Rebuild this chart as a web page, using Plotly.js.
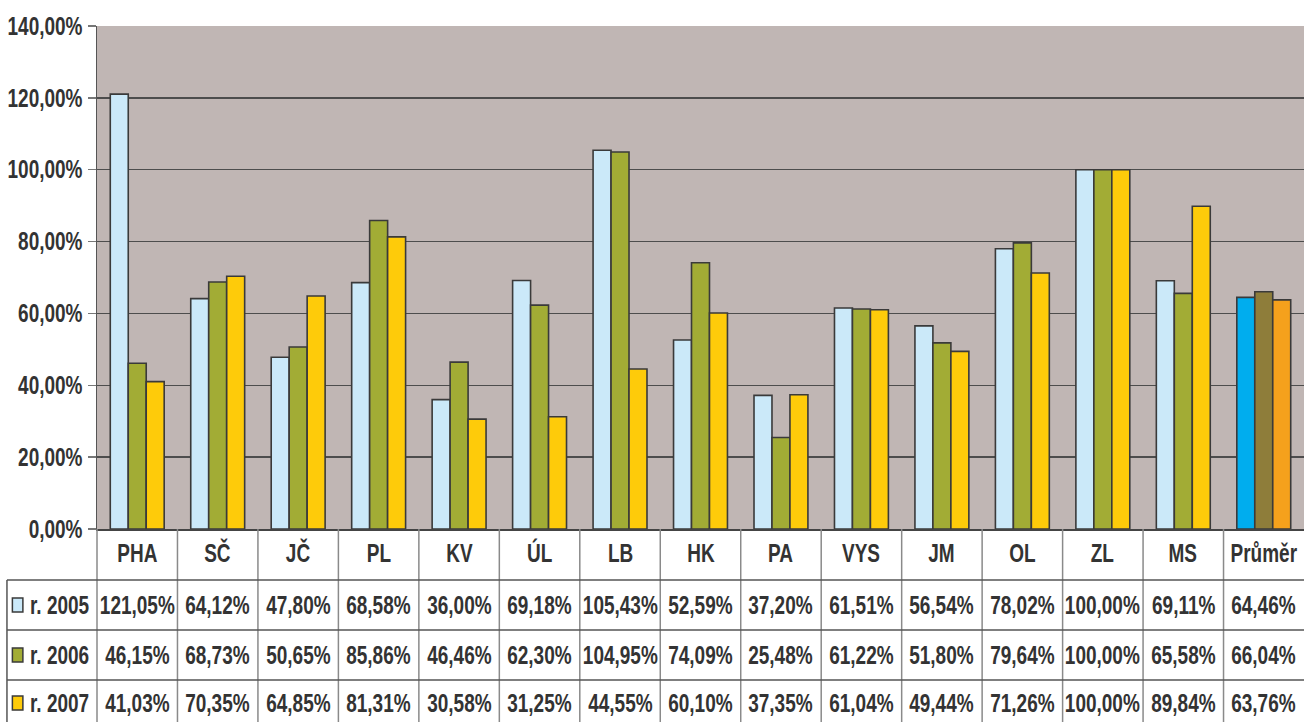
<!DOCTYPE html>
<html><head><meta charset="utf-8">
<script src="https://cdn.plot.ly/plotly-3.0.1.min.js"></script>
<style>html,body{margin:0;padding:0;background:#fff}#chart{width:1304px;height:722px}</style>
</head><body><div id="chart"></div>
<script>
const categories = ["PHA","SČ","JČ","PL","KV","ÚL","LB","HK","PA","VYS","JM","OL","ZL","MS","Průměr"];
const seriesNames = ["r. 2005","r. 2006","r. 2007"];
const v2005 = [121.05,64.12,47.80,68.58,36.00,69.18,105.43,52.59,37.20,61.51,56.54,78.02,100.00,69.11,64.46];
const v2006 = [46.15,68.73,50.65,85.86,46.46,62.30,104.95,74.09,25.48,61.22,51.80,79.64,100.00,65.58,66.04];
const v2007 = [41.03,70.35,64.85,81.31,30.58,31.25,44.55,60.10,37.35,61.04,49.44,71.26,100.00,89.84,63.76];
const yTicks = [0,20,40,60,80,100,120,140];

const baseColors = ["#cbe9f9","#a2ac35","#fecb0a"];
const avgColors = ["#00adee","#8e7d3a","#f5a11c"];
const allSeries = [v2005,v2006,v2007];
const FONT = '"Liberation Sans",Arial,sans-serif';
const TXT = '#333333';
const FS = 25;
const SQUEEZE = 0.76;

const traces = allSeries.map((vals,k)=>({
  type:'bar', name:seriesNames[k], x:categories, y:vals,
  marker:{color:categories.map((c,i)=> i===categories.length-1 ? avgColors[k] : baseColors[k]),
          line:{color:'#3a3a3a',width:1.6}},
  hoverinfo:'x+y'
}));

const rowLines = [-0.1014,-0.2008,-0.3002];
const rowCenters = [-0.151,-0.2505,-0.346];
const headerY = -0.0477;
const bottomY = -0.40;
const leftX = -0.0746;

const fmt = v => v.toFixed(2).replace('.',',') + '%';

const shapes = [];
const annotations = [];
shapes.push({type:'line',xref:'paper',yref:'paper',x0:0,x1:0,y0:0,y1:bottomY,line:{color:'#8a8a8a',width:1.5}});
for(let i=1;i<categories.length;i++){
  shapes.push({type:'line',xref:'x',yref:'paper',x0:i-0.5,x1:i-0.5,y0:0,y1:bottomY,line:{color:'#8a8a8a',width:1.5}});
}
shapes.push({type:'line',xref:'paper',yref:'paper',x0:leftX,x1:leftX,y0:rowLines[0],y1:bottomY,line:{color:'#555',width:1.5}});
rowLines.forEach(y=>shapes.push({type:'line',xref:'paper',yref:'paper',x0:leftX,x1:1,y0:y,y1:y,line:{color:'#555',width:1.5}}));

categories.forEach(c=>annotations.push({xref:'x',yref:'paper',x:c,y:headerY,text:'<b>'+c+'</b>',showarrow:false,
  font:{family:FONT,size:FS,color:TXT},xanchor:'center',yanchor:'middle'}));

allSeries.forEach((vals,k)=>{
  const yc = rowCenters[k];
  shapes.push({type:'rect',xref:'paper',yref:'paper',x0:-0.0701,x1:-0.0614,y0:yc+0.014,y1:yc-0.014,
    fillcolor:baseColors[k],line:{color:'#3a3a3a',width:1.5}});
  annotations.push({xref:'paper',yref:'paper',x:-0.0575,y:yc,text:'<b>'+seriesNames[k]+'</b>',showarrow:false,
    font:{family:FONT,size:FS,color:TXT},xanchor:'left',yanchor:'middle',name:'leftlabel'});
  vals.forEach((v,i)=>annotations.push({xref:'x',yref:'paper',x:categories[i],y:yc,text:'<b>'+fmt(v)+'</b>',showarrow:false,
    font:{family:FONT,size:FS,color:TXT},xanchor:'center',yanchor:'middle'}));
});

const layout = {
  width:1304,height:722,
  margin:{l:97,r:0,t:26,b:193,pad:0},
  paper_bgcolor:'#ffffff', plot_bgcolor:'#c0b6b4',
  barmode:'group', bargap:0.33, bargroupgap:0,
  showlegend:false,
  font:{family:FONT,color:TXT},
  xaxis:{type:'category',categoryorder:'array',categoryarray:categories,range:[-0.5,categories.length-0.5],autorange:false,
    showticklabels:false,ticks:'',showline:true,linecolor:'#444',linewidth:2,showgrid:false,zeroline:false,fixedrange:true},
  yaxis:{range:[0,140],autorange:false,tickmode:'array',tickvals:yTicks,
    ticktext:yTicks.map(t=>'<b>'+t.toFixed(2).replace('.',',')+'%</b>'),
    tickfont:{family:FONT,size:FS,color:TXT},ticks:'outside',ticklen:8,tickcolor:'#777',tickwidth:1.5,
    showline:true,linecolor:'#555',linewidth:1.5,gridcolor:'#4d4d4d',gridwidth:1.5,zeroline:false,fixedrange:true},
  shapes:shapes, annotations:annotations
};

function squeeze(el, mode){
  const bb = el.getBBox();
  const cx = mode==='right' ? bb.x+bb.width : (mode==='left' ? bb.x : bb.x+bb.width/2);
  const prev = el.getAttribute('transform') || '';
  el.setAttribute('transform', (prev+' translate('+cx+',0) scale('+SQUEEZE+',1) translate('+(-cx)+',0)').trim());
}

Plotly.newPlot('chart',traces,layout,{displayModeBar:false,staticPlot:true}).then(gd=>{
  gd.querySelectorAll('.ytick text').forEach(t=>squeeze(t,'right'));
  gd.querySelectorAll('.annotation').forEach(a=>{
    const t = a.querySelector('text.annotation-text');
    if(!t) return;
    const isLeft = /^r\. /.test(t.textContent);
    squeeze(t, isLeft ? 'left' : 'center');
  });
});
</script></body></html>
